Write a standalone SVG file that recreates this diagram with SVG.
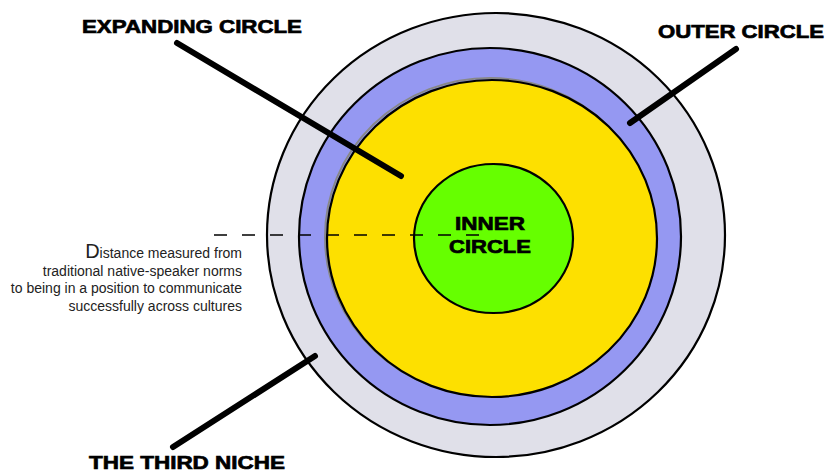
<svg xmlns="http://www.w3.org/2000/svg" width="827" height="472" viewBox="0 0 827 472">
<style>
.ring{stroke:#000;stroke-width:2.2}
.ptr{stroke:#000;stroke-width:6;stroke-linecap:round;fill:none}
.lbl{font-family:"Liberation Sans",Arial,sans-serif;font-weight:bold;font-size:19px;fill:#000;stroke:#000;stroke-width:0.7}
.note{font-family:"Liberation Sans",Arial,sans-serif;font-size:14px;fill:#222;text-anchor:end}
</style>
<rect width="827" height="472" fill="#fff"/>
<g id="third-niche-circle"><ellipse class="ring" cx="496" cy="235" rx="229" ry="222" fill="#e0e0e9"/></g>
<g id="outer-circle"><ellipse class="ring" cx="490" cy="236.5" rx="191" ry="188.5" fill="#9598f2"/></g>
<g id="expanding-circle">
<ellipse cx="490" cy="237" rx="165" ry="159" fill="none" stroke="#888" stroke-width="2"/>
<ellipse class="ring" cx="492" cy="238.5" rx="165" ry="158.5" fill="#fde000"/>
</g>
<g id="inner-circle">
<ellipse class="ring" cx="493.5" cy="238.5" rx="79.5" ry="74.5" fill="#66ff00"/>
</g>
<g id="connectors">
<line class="ptr" x1="177" y1="43" x2="401" y2="176"/>
<line class="ptr" x1="736" y1="49" x2="630" y2="123"/>
<line class="ptr" x1="315" y1="356" x2="173" y2="447"/>
<line x1="214" y1="235" x2="492" y2="235" stroke="#000" stroke-width="1.3" stroke-dasharray="13 15"/>
</g>
<g id="labels">
<text class="lbl" x="82" y="33" textLength="220" lengthAdjust="spacingAndGlyphs">EXPANDING CIRCLE</text>
<text class="lbl" x="658" y="37.5" textLength="166" lengthAdjust="spacingAndGlyphs">OUTER CIRCLE</text>
<text class="lbl" x="89" y="469" textLength="196" lengthAdjust="spacingAndGlyphs">THE THIRD NICHE</text>
<text class="lbl" x="455" y="229.5" textLength="70" lengthAdjust="spacingAndGlyphs">INNER</text>
<text class="lbl" x="449" y="253" textLength="82" lengthAdjust="spacingAndGlyphs">CIRCLE</text>
</g>
<g id="note">
<text class="note" x="242" y="258"><tspan font-size="20">D</tspan>istance measured from</text>
<text class="note" x="242" y="276">traditional native-speaker norms</text>
<text class="note" x="242" y="293">to being in a position to communicate</text>
<text class="note" x="242" y="311">successfully across cultures</text>
</g>
</svg>
